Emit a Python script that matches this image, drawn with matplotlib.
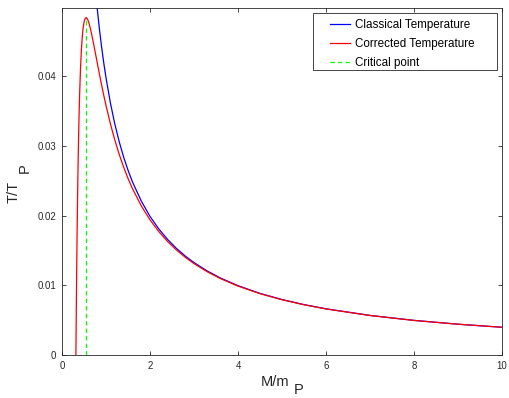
import matplotlib
matplotlib.use('Agg')
import matplotlib.pyplot as plt
from matplotlib.patches import Rectangle

# values
M_classical = [0.78, 0.8, 0.85, 0.9, 0.95, 1.0, 1.1, 1.2, 1.3, 1.4, 1.5, 1.6, 1.8,
               2.0, 2.2, 2.4, 2.6, 2.8, 3.0, 3.3, 3.6, 4.0, 4.5, 5.0, 5.5, 6.0,
               7.0, 8.0, 9.0, 10.0]
T_classical = [0.05101, 0.04974, 0.04681, 0.04421, 0.04188, 0.03979, 0.03617,
               0.03316, 0.03061, 0.02842, 0.02653, 0.02487, 0.02211, 0.01989,
               0.01809, 0.01658, 0.01530, 0.01421, 0.01326, 0.01206, 0.01105,
               0.00995, 0.00884, 0.00796, 0.00723, 0.00663, 0.00568, 0.00497,
               0.00442, 0.00398]

M_corrected = [0.316, 0.32, 0.33, 0.34, 0.35, 0.36, 0.37, 0.38, 0.39, 0.40, 0.42,
               0.44, 0.46, 0.48, 0.50, 0.52, 0.55, 0.58, 0.61, 0.65, 0.70, 0.75,
               0.80, 0.85, 0.90, 0.95, 1.0, 1.1, 1.2, 1.3, 1.4, 1.5, 1.6, 1.8,
               2.0, 2.2, 2.4, 2.6, 2.8, 3.0, 3.3, 3.6, 4.0, 4.5, 5.0, 5.5, 6.0,
               7.0, 8.0, 9.0, 10.0]
T_corrected = [0.0, 0.00291, 0.00985, 0.01579, 0.02088, 0.02525, 0.02898, 0.03220,
               0.03494, 0.03730, 0.04103, 0.04372, 0.04562, 0.04692, 0.04775,
               0.04822, 0.04843, 0.04821, 0.04770, 0.04673, 0.04524, 0.04362,
               0.04197, 0.04033, 0.03875, 0.03724, 0.03581, 0.03318, 0.03086,
               0.02880, 0.02697, 0.02535, 0.02390, 0.02142, 0.01940, 0.01771,
               0.01629, 0.01508, 0.01403, 0.01312, 0.01195, 0.01097, 0.00989,
               0.00880, 0.00793, 0.00721, 0.00661, 0.00567, 0.00496, 0.00442,
               0.00398]

M_critical = 0.548
T_critical = 0.0484

x_ticks = [0, 2, 4, 6, 8, 10]
y_ticks = [0, 0.01, 0.02, 0.03, 0.04]
y_tick_labels = ['0', '0.01', '0.02', '0.03', '0.04']

plt.rcParams['font.family'] = ['Liberation Sans', 'DejaVu Sans']
dark = '#262626'

fig = plt.figure(figsize=(5.09, 3.98), dpi=100)
ax = fig.add_axes([62 / 509, 43 / 398, 440 / 509, 347 / 398])

ax.plot(M_classical, T_classical, color='#0000ff', lw=0.9, label='Classical Temperature')
ax.plot(M_corrected, T_corrected, color='#ff0000', lw=0.9, label='Corrected Temperature')
ax.plot([M_critical, M_critical], [0, T_critical], color='#00ff00', lw=0.9,
        linestyle=(0, (3.5, 2.5)), label='Critical point')

ax.set_xlim(0, 10)
ax.set_ylim(0, 0.0498)
ax.set_xticks(x_ticks)
ax.set_yticks(y_ticks)
ax.set_yticklabels(y_tick_labels)
ax.tick_params(direction='in', length=3, width=0.6, colors=dark, labelsize=6.9,
               top=True, right=True, pad=4)
for s in ax.spines.values():
    s.set_color(dark)
    s.set_linewidth(0.6)

# legend entries without frame, the MATLAB style box drawn separately under them
leg = ax.legend(loc='upper left', bbox_to_anchor=(330 / 509, 1 - 19 / 398),
                bbox_transform=fig.transFigure, borderaxespad=0, borderpad=0,
                fontsize=8.4, frameon=False, handlelength=1.7, handletextpad=0.45,
                labelspacing=0.6)
leg.set_zorder(6)
box = Rectangle((313 / 509, 1 - 70 / 398), 184 / 509, 57 / 398,
                transform=fig.transFigure, facecolor='white', edgecolor=dark,
                linewidth=0.6, zorder=5, clip_on=False)
ax.add_patch(box)

# labels with the P dropped down like the original
fig.text(275 / 509, 1 - 382 / 398, 'M/m', fontsize=10.5, color=dark, ha='center', va='center')
fig.text(299 / 509, 1 - 390 / 398, 'P', fontsize=10.5, color=dark, ha='center', va='center')
fig.text(14 / 509, 1 - 192 / 398, 'T/T', fontsize=10.5, color=dark, ha='center', va='center',
         rotation=90)
fig.text(25 / 509, 1 - 168 / 398, 'P', fontsize=10.5, color=dark, ha='center', va='center',
         rotation=90)

fig.savefig('out.png', dpi=100)
